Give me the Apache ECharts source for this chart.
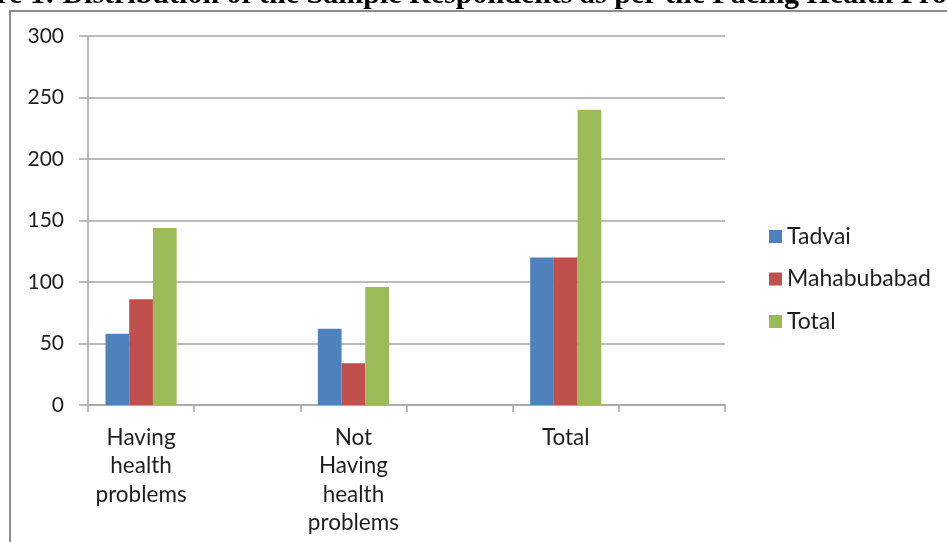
<!DOCTYPE html>
<html>
<head>
<meta charset="utf-8">
<script src="https://cdn.jsdelivr.net/npm/echarts@6/dist/echarts.min.js"></script>
<style>
  html, body { margin: 0; padding: 0; background: #fff; }
  #chart { width: 947px; height: 542px; }
</style>
</head>
<body>
<div id="chart"></div>
<script>
// Categories (blank slots separate the groups on the axis)
const categories = ['Having\nhealth\nproblems', '', 'Not\nHaving\nhealth\nproblems', '', 'Total', ''];
const tadvai      = [58, null, 62, null, 120, null];
const mahabubabad = [86, null, 34, null, 120, null];
const total       = [144, null, 96, null, 240, null];
const seriesNames = ['Tadvai', 'Mahabubabad', 'Total'];
const yTicks = [0, 50, 100, 150, 200, 250, 300];

const titleText = 'Figure 1: Distribution of the Sample Respondents as per the Facing Health Problems';
const font = 'Lato';

const chart = echarts.init(document.getElementById('chart'));
chart.setOption({
  animation: false,
  color: ['#4f81bd', '#c0504d', '#9bbb59'],
  graphic: [
    {
      type: 'text', left: -62, top: -20, silent: true,
      style: { text: titleText, font: 'bold 30px "Liberation Serif"', fill: '#000' }
    },
    {
      type: 'polyline', silent: true,
      shape: { points: [[10, 545], [10, 11], [950, 11]] },
      style: { stroke: '#8c8c8c', lineWidth: 2, fill: 'none' }
    }
  ],
  legend: {
    orient: 'vertical', left: 764, top: 220,
    itemWidth: 13, itemHeight: 13, itemGap: 19.5,
    icon: 'rect',
    textStyle: { fontFamily: font, fontSize: 23, color: '#1e1e1e' },
    data: seriesNames
  },
  grid: { left: 88, right: 222, top: 36, bottom: 137 },
  xAxis: {
    type: 'category', data: categories,
    axisLine: { lineStyle: { color: '#a6a6a6', width: 1.5 } },
    axisTick: { show: true, length: 7, alignWithLabel: false, lineStyle: { color: '#a6a6a6', width: 1.5 } },
    axisLabel: { interval: 0, fontFamily: font, fontSize: 22.5, color: '#1e1e1e', lineHeight: 28.5, margin: 18 },
    splitLine: { show: false }
  },
  yAxis: {
    type: 'value', min: 0, max: 300, interval: 50,
    axisLine: { show: true, lineStyle: { color: '#a6a6a6', width: 1.5 } },
    axisTick: { show: true, length: 9, lineStyle: { color: '#a6a6a6', width: 1.5 } },
    axisLabel: { fontFamily: font, fontSize: 21, color: '#1e1e1e', margin: 24,
      formatter: v => yTicks.includes(v) ? String(v) : '' },
    splitLine: { lineStyle: { color: '#a6a6a6', width: 1.5 } }
  },
  series: [
    { name: seriesNames[0], type: 'bar', data: tadvai, barGap: '0%', barCategoryGap: '33%' },
    { name: seriesNames[1], type: 'bar', data: mahabubabad, barGap: '0%', barCategoryGap: '33%' },
    { name: seriesNames[2], type: 'bar', data: total, barGap: '0%', barCategoryGap: '33%' }
  ]
});
</script>
</body>
</html>
